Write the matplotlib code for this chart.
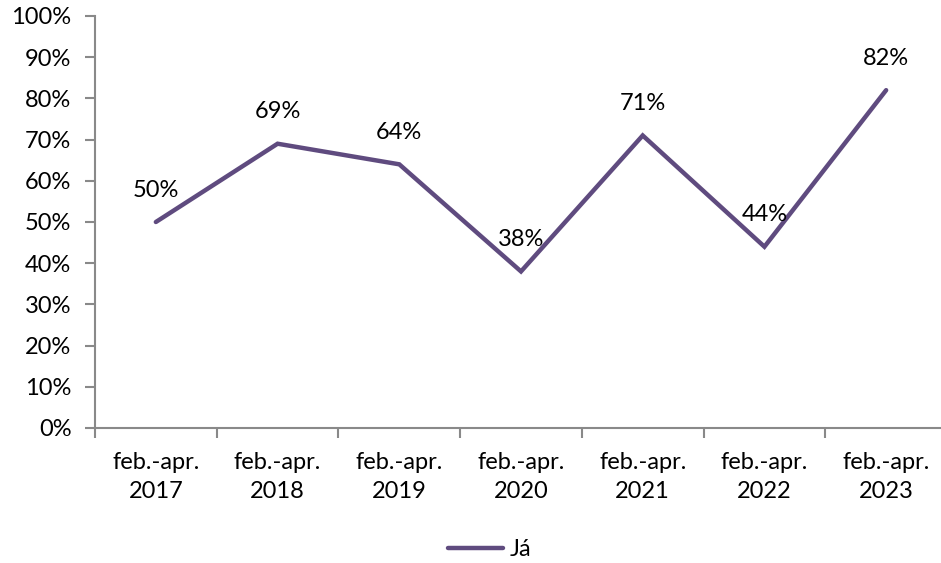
import matplotlib
matplotlib.use("Agg")
import matplotlib.pyplot as plt
import numpy as np

categories = ["feb.-apr.\n2017", "feb.-apr.\n2018", "feb.-apr.\n2019", "feb.-apr.\n2020",
              "feb.-apr.\n2021", "feb.-apr.\n2022", "feb.-apr.\n2023"]
values = [50, 69, 64, 38, 71, 44, 82]
labels = ["50%", "69%", "64%", "38%", "71%", "44%", "82%"]
yticks = [0, 10, 20, 30, 40, 50, 60, 70, 80, 90, 100]
series_name = "Já"

plt.rcParams['font.family'] = ['Lato', 'DejaVu Sans']
color = "#5F4B7F"
axis_color = "#898989"
fs = 17

fig = plt.figure(figsize=(9.41, 5.63), dpi=100)
ax = fig.add_axes([95/941, 135/563, 852/941, 412/563])

x = np.arange(len(values)) + 0.5
ax.plot(x, values, color=color, linewidth=3.2, solid_capstyle='round', solid_joinstyle='miter', label=series_name)
for xi, v, lab in zip(x, values, labels):
    ax.annotate(lab, (xi, v), xytext=(0, 23), textcoords='offset points',
                ha='center', va='center', fontsize=fs)

ax.set_xlim(0, len(values))
ax.set_ylim(0, 100)
ax.set_yticks(yticks)
ax.set_yticklabels([f"{t}%" for t in yticks], fontsize=fs)
ax.set_xticks(np.arange(len(values) + 1))
ax.set_xticklabels([])
ax.set_xticks(x, minor=True)
ax.set_xticklabels(categories, minor=True, fontsize=fs, linespacing=1.5)
ax.tick_params(axis='x', which='major', length=7, width=1.5, color=axis_color)
ax.tick_params(axis='x', which='minor', length=0, pad=17)
ax.tick_params(axis='y', length=7, width=1.5, color=axis_color, pad=10)

for s in ['top', 'right']:
    ax.spines[s].set_visible(False)
for s in ['left', 'bottom']:
    ax.spines[s].set_color(axis_color)
    ax.spines[s].set_linewidth(1.5)

leg = fig.legend(loc='center', frameon=False, fontsize=fs, handlelength=2.3, handletextpad=0.3)
leg.set_bbox_to_anchor((490/941, 1 - 550/563))

fig.savefig("out.png", dpi=100)
